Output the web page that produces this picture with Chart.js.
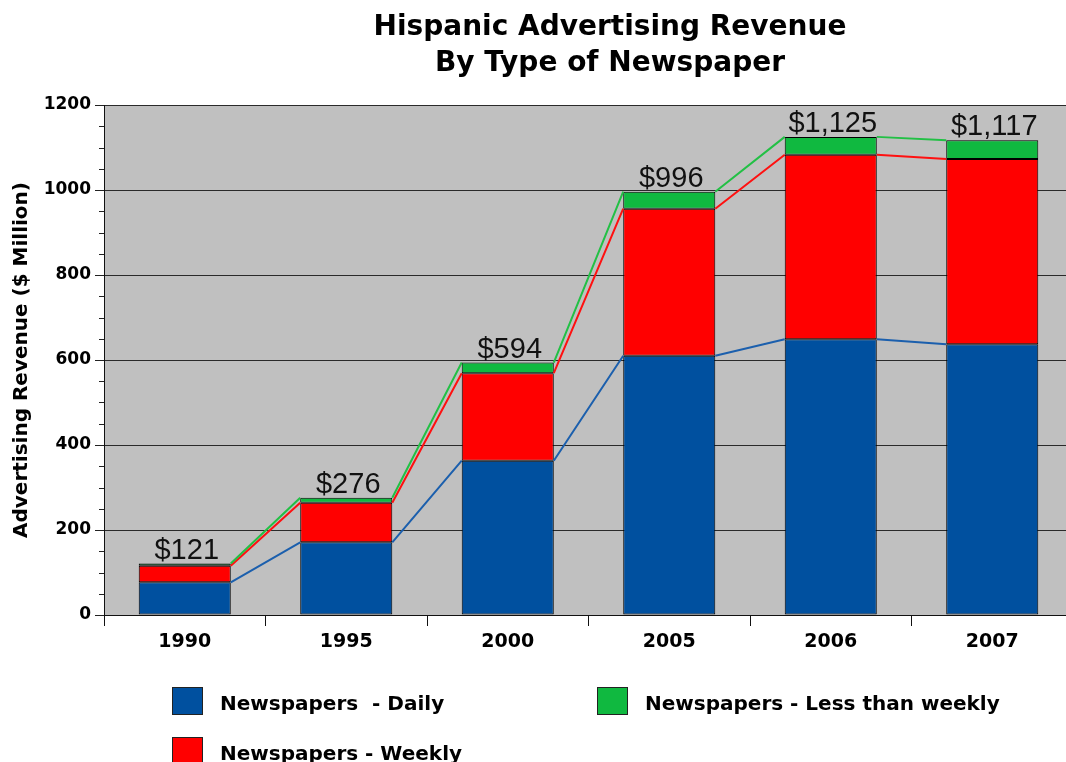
<!DOCTYPE html>
<html>
<head>
<meta charset="utf-8">
<title>Hispanic Advertising Revenue</title>
<script src="https://cdn.jsdelivr.net/npm/chart.js@4.4.1/dist/chart.umd.min.js"></script>
<style>
    html, body { margin: 0; padding: 0; background: #fff; overflow: hidden; width: 1066px; height: 762px; }
    #wrap { position: relative; width: 1080px; height: 762px; }
    #legend { position: absolute; left: 0; top: 0; font: bold 20px "DejaVu Sans", sans-serif; color: #000; }
    .item { position: absolute; display: flex; align-items: flex-start; white-space: pre; }
    .box { width: 29px; height: 26px; border: 1px solid #222; margin-right: 17px; }
    .txt { line-height: 27px; padding-top: 3px; }
</style>
</head>
<body>
<div id="wrap">
    <canvas id="chart" width="1080" height="762"></canvas>
    <div id="legend"></div>
</div>
<script>
const years = ["1990", "1995", "2000", "2005", "2006", "2007"];
const daily = [77, 171, 363, 610, 649, 637];
const weekly = [39, 93, 206, 346, 434, 436];
const lessThanWeekly = [5, 12, 25, 40, 42, 44];
const totals = [121, 276, 594, 996, 1125, 1117];
const titleLines = ["Hispanic Advertising Revenue", "By Type of Newspaper"];
const seriesNames = ["Newspapers  - Daily", "Newspapers - Weekly", "Newspapers - Less than weekly"];

const barColors = ["#00509f", "#ff0000", "#10b940"];
const lineColors = ["#1b5fad", "#ff1010", "#22c045"];

const plotBg = {
    id: "plotBg",
    beforeDraw(chart) {
        const { ctx, chartArea: a } = chart;
        ctx.save();
        ctx.fillStyle = "#c0c0c0";
        ctx.fillRect(a.left, a.top, a.right - a.left, a.bottom - a.top);
        ctx.restore();
    }
};

// short ticks every 50 on the value axis
const minorTicks = {
    id: "minorTicks",
    afterDraw(chart) {
        const y = chart.scales.y, ctx = chart.ctx;
        ctx.save();
        ctx.strokeStyle = "#222";
        ctx.lineWidth = 1;
        y.ticks.forEach(t => {
            if (t.value % 200 === 0) return;
            const py = Math.round(y.getPixelForValue(t.value)) + 0.5;
            ctx.beginPath();
            ctx.moveTo(y.right - 5, py);
            ctx.lineTo(y.right, py);
            ctx.stroke();
        });
        ctx.restore();
    }
};

// series lines joining the stack tops between bars, plus the totals
const seriesLines = {
    id: "seriesLines",
    afterDatasetsDraw(chart) {
        const ctx = chart.ctx;
        ctx.save();
        ctx.lineWidth = 2;
        chart.data.datasets.forEach((ds, di) => {
            const meta = chart.getDatasetMeta(di);
            ctx.strokeStyle = lineColors[di];
            ctx.beginPath();
            for (let i = 0; i < meta.data.length - 1; i++) {
                const a = meta.data[i], b = meta.data[i + 1];
                ctx.moveTo(a.x + a.width / 2, a.y);
                ctx.lineTo(b.x - b.width / 2, b.y);
            }
            ctx.stroke();
        });
        const top = chart.getDatasetMeta(chart.data.datasets.length - 1);
        ctx.fillStyle = "#111";
        ctx.font = '29px "Liberation Sans", Arial, sans-serif';
        ctx.textAlign = "center";
        ctx.textBaseline = "alphabetic";
        top.data.forEach((el, i) => {
            ctx.fillText("$" + totals[i].toLocaleString("en-US"), el.x + 2, el.y - 5);
        });
        ctx.restore();
    }
};

const titleDraw = {
    id: "titleDraw",
    afterDraw(chart) {
        const ctx = chart.ctx;
        ctx.save();
        ctx.fillStyle = "#000";
        ctx.font = 'bold 28px "DejaVu Sans", sans-serif';
        ctx.textAlign = "center";
        ctx.textBaseline = "alphabetic";
        ctx.fillText(titleLines[0], 610, 35);
        ctx.fillText(titleLines[1], 610, 71);
        ctx.restore();
    }
};

const chart = new Chart(document.getElementById("chart").getContext("2d"), {
    type: "bar",
    data: {
        labels: years,
        datasets: [
            { label: seriesNames[0], data: daily, backgroundColor: barColors[0] },
            { label: seriesNames[1], data: weekly, backgroundColor: barColors[1] },
            { label: seriesNames[2], data: lessThanWeekly, backgroundColor: barColors[2] }
        ].map(ds => Object.assign(ds, { borderColor: "#000", borderWidth: 1, borderSkipped: false, categoryPercentage: 1, barPercentage: 0.57 }))
    },
    options: {
        responsive: false,
        devicePixelRatio: 1,
        animation: false,
        layout: { padding: { top: 105, left: 0, right: 7, bottom: 100 } },
        plugins: { legend: { display: false }, title: { display: false }, tooltip: { enabled: false } },
        scales: {
            x: {
                stacked: true,
                afterFit: s => { s.height = 47; },
                grid: { display: true, drawOnChartArea: false, drawTicks: true, tickLength: 11, color: "#111", offset: true },
                border: { display: true, color: "#111", width: 1 },
                ticks: { color: "#000", padding: 5, maxRotation: 0, font: { family: "DejaVu Sans", weight: "bold", size: 19 } }
            },
            y: {
                stacked: true,
                min: 0,
                max: 1200,
                afterFit: s => { s.width = 104; },
                grid: {
                    color: c => (c.tick && c.tick.value % 200 === 0) ? "#2a2a2a" : "rgba(0,0,0,0)",
                    tickColor: c => (c.tick && c.tick.value % 200 === 0) ? "#222" : "rgba(0,0,0,0)",
                    tickLength: 9
                },
                border: { display: true, color: "#111", width: 1 },
                ticks: {
                    stepSize: 50,
                    autoSkip: false,
                    padding: 4,
                    color: "#000",
                    font: { family: "DejaVu Sans", weight: "bold", size: 17 },
                    callback: v => (v % 200 === 0 ? v : "")
                },
                title: {
                    display: true,
                    text: "Advertising Revenue ($ Million)",
                    color: "#000",
                    padding: { top: 10, bottom: 0 },
                    font: { family: "DejaVu Sans", weight: "bold", size: 20 }
                }
            }
        }
    },
    plugins: [plotBg, minorTicks, seriesLines, titleDraw]
});

// legend laid out as in the picture: two columns, daily / weekly on the left
const legendSlots = [
    { ds: 0, left: 172, top: 687 },
    { ds: 2, left: 597, top: 687 },
    { ds: 1, left: 172, top: 737 }
];
const legend = document.getElementById("legend");
legendSlots.forEach(slot => {
    const ds = chart.data.datasets[slot.ds];
    const item = document.createElement("div");
    item.className = "item";
    item.style.left = slot.left + "px";
    item.style.top = slot.top + "px";
    item.innerHTML = `<div class="box" style="background:${ds.backgroundColor}"></div><div class="txt">${ds.label}</div>`;
    legend.appendChild(item);
});
</script>
</body>
</html>
